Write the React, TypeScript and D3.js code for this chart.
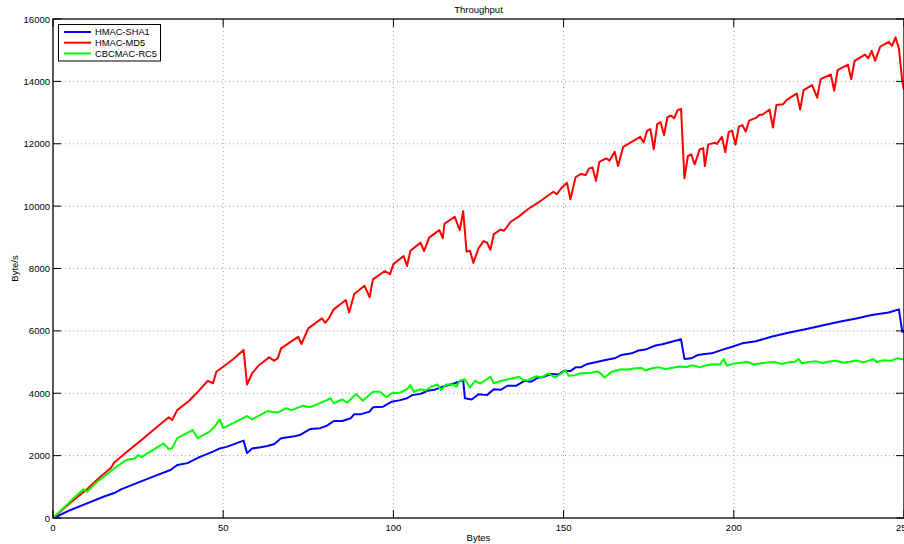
import React from "react";
import * as d3 from "d3";

const title = "Throughput";
const xLabel = "Bytes";
const yLabel = "Byte/s";
const xTicks = [0, 50, 100, 150, 200, 250];
const yTicks = [0, 2000, 4000, 6000, 8000, 10000, 12000, 14000, 16000];
const seriesNames = ["HMAC-SHA1", "HMAC-MD5", "CBCMAC-RC5"];
const seriesColors = ["#0000ff", "#ff0000", "#00ff00"];

const sha1Bytes = [0, 1, 5, 10, 15, 18, 20, 25.5, 30, 34.5, 36.5, 39.5, 43, 47, 49, 51, 56, 57, 58.5, 61, 63, 65, 67, 70.5, 72.5, 75.5, 78.5, 80.5, 82.5, 85, 87.5, 88.5, 90.5, 93, 94, 97, 99.5, 102, 104, 105.5, 108, 110, 112, 114.5, 118, 120.5, 121, 123, 125, 127.5, 129.5, 131.5, 133.5, 136, 138.5, 140.5, 142.5, 144, 146.5, 148.5, 150, 152, 153.5, 155, 157, 160, 163, 165, 167, 170, 172, 174, 177, 179, 184.5, 185.5, 187.5, 189.5, 191.5, 193.5, 196.5, 199.5, 202.5, 206.5, 211, 216, 221, 226, 231, 236, 240.5, 245.5, 248.5, 249.5, 250];
const sha1Values = [0, 40, 250, 470, 690, 800, 920, 1160, 1350, 1540, 1700, 1760, 1950, 2130, 2230, 2280, 2480, 2080, 2230, 2270, 2310, 2370, 2560, 2610, 2660, 2850, 2880, 2960, 3110, 3110, 3200, 3330, 3330, 3410, 3550, 3570, 3730, 3780, 3840, 3940, 3980, 4080, 4110, 4210, 4320, 4420, 3840, 3800, 3970, 3940, 4130, 4110, 4240, 4240, 4400, 4370, 4500, 4520, 4620, 4600, 4710, 4710, 4830, 4830, 4940, 5010, 5080, 5120, 5230, 5280, 5370, 5400, 5530, 5570, 5730, 5100, 5120, 5230, 5260, 5280, 5390, 5490, 5600, 5670, 5810, 5940, 6050, 6170, 6290, 6400, 6510, 6590, 6690, 5970, 5970];

const md5Bytes = [0, 1, 5, 10, 14, 17, 18, 22, 26, 30, 34, 35, 36.5, 40, 43, 45.5, 47, 48, 50, 53, 56, 57, 58.5, 60.5, 63.5, 65, 66, 67, 72, 73, 75, 77, 79, 80, 81, 82.5, 86, 87, 88.5, 91.5, 93, 94, 97.5, 99, 100, 103, 104, 105, 108, 109, 110.5, 113.5, 114.5, 115, 118, 119.5, 120.5, 121.5, 122.5, 123.5, 125, 126.5, 127.5, 128.5, 129.5, 131.5, 132.5, 134.5, 137, 139.5, 142.5, 147, 148, 149.5, 151, 152, 153.5, 155, 156.5, 157.5, 158.5, 159.5, 160.5, 162.5, 163.5, 165, 166, 167.5, 170, 172.5, 173.5, 174.5, 175.5, 176.5, 177.5, 178.5, 179.5, 180.5, 181.5, 182.5, 183.5, 184.5, 185.5, 186.5, 187.5, 188.5, 190, 191, 191.5, 192.5, 194.5, 195, 196.5, 197.5, 198.5, 199.5, 200.5, 201.5, 202.5, 203.5, 204.5, 206.5, 207.5, 208.5, 210.5, 211.5, 212.5, 214.5, 215.5, 217, 218.5, 219.5, 220.5, 223, 224.5, 225.5, 228.5, 229.5, 230.5, 233.5, 234.5, 235.5, 238.5, 239.5, 240.5, 241.5, 243, 245.5, 246.5, 247.5, 248.5, 249.5, 250];
const md5Values = [0, 100, 480, 920, 1330, 1600, 1780, 2150, 2500, 2870, 3230, 3140, 3460, 3760, 4100, 4400, 4320, 4690, 4850, 5100, 5390, 4280, 4640, 4900, 5150, 5040, 5120, 5440, 5810, 5580, 6080, 6240, 6400, 6260, 6400, 6690, 6990, 6590, 7180, 7450, 7080, 7650, 7920, 7820, 8140, 8400, 8080, 8570, 8830, 8560, 8990, 9230, 8970, 9430, 9660, 9230, 9840, 8540, 8570, 8180, 8650, 8880, 8830, 8600, 9100, 9250, 9210, 9500, 9680, 9900, 10110, 10460, 10380, 10600, 10750, 10220, 10920, 11030, 11000, 11210, 11240, 10810, 11420, 11530, 11460, 11740, 11290, 11900, 12060, 12220, 12040, 12410, 12470, 11820, 12630, 12690, 12280, 12850, 12900, 12820, 13080, 13120, 10890, 11600, 11660, 11340, 11820, 11860, 11280, 11980, 12030, 11990, 12220, 11730, 12370, 12420, 11970, 12550, 12600, 12390, 12740, 12830, 12920, 12940, 13100, 12520, 13240, 13270, 13400, 13510, 13610, 13100, 13720, 13880, 13480, 14070, 14220, 13700, 14360, 14540, 14070, 14660, 14860, 14740, 14980, 14660, 15110, 15270, 15140, 15410, 15060, 13990, 13740];

const rc5Bytes = [0, 1, 6, 9, 10, 13, 18, 21.5, 24, 25, 26, 32.5, 34, 35, 36.5, 41, 42.5, 46, 47.5, 49, 50, 57, 58.5, 63, 64.5, 66, 68.5, 70, 73.5, 75.5, 80.5, 81.5, 82.5, 85, 86.5, 89, 91, 94, 96, 98, 99.5, 102, 104, 105, 106, 108, 109.5, 111, 113, 114, 115.5, 117.5, 118.5, 119.5, 121, 122.5, 124, 125.5, 128.5, 129.5, 131.5, 137, 138, 139.5, 141, 142, 143.5, 145.5, 147.5, 149.5, 150.5, 151.5, 153.5, 155, 158, 160, 161, 162, 164, 167, 169, 171, 173, 174, 176, 178, 180, 182, 184, 186, 188, 190, 192, 194, 196, 197, 198, 200, 202, 204, 206, 208, 210, 212, 214, 216, 218, 219, 220, 222, 224, 226, 228, 230, 232, 234, 236, 238, 240, 241, 242, 244, 246, 248, 250];
const rc5Values = [0, 100, 630, 920, 840, 1160, 1590, 1860, 1910, 2020, 1950, 2390, 2210, 2240, 2560, 2820, 2560, 2770, 2930, 3160, 2880, 3270, 3160, 3430, 3400, 3380, 3520, 3460, 3600, 3550, 3780, 3840, 3680, 3800, 3700, 3980, 3760, 4050, 4050, 3870, 4000, 4020, 4130, 4260, 4050, 4130, 4090, 4210, 4280, 4100, 4280, 4280, 4210, 4400, 4450, 4180, 4400, 4310, 4530, 4320, 4390, 4530, 4430, 4410, 4500, 4550, 4500, 4640, 4510, 4640, 4750, 4560, 4580, 4640, 4660, 4700, 4620, 4500, 4680, 4770, 4760, 4800, 4810, 4730, 4800, 4830, 4780, 4820, 4860, 4840, 4900, 4830, 4900, 4930, 4920, 5100, 4880, 4950, 4980, 5000, 4920, 4960, 4990, 5000, 4940, 4990, 5010, 5100, 4960, 5000, 5030, 4970, 5020, 5040, 4980, 5010, 5050, 4990, 5060, 5100, 5000, 5060, 5040, 5120, 5080];

const W = 904;
const H = 544;
const M = { left: 53, right: 904, top: 19, bottom: 518 };
const FONT = "'Liberation Sans', Arial, Helvetica, sans-serif";

export default function App() {
  const x = d3.scaleLinear().domain([0, 250]).range([M.left, M.right]);
  const y = d3.scaleLinear().domain([0, 16000]).range([M.bottom, M.top]);
  const series = [
    { xs: sha1Bytes, ys: sha1Values },
    { xs: md5Bytes, ys: md5Values },
    { xs: rc5Bytes, ys: rc5Values },
  ];
  const line = d3
    .line<[number, number]>()
    .x((d) => x(d[0]))
    .y((d) => y(d[1]));
  const tickLen = 8;
  const plotW = M.right - M.left;

  return (
    <svg
      width={W}
      height={H}
      style={{ position: "absolute", left: 0, top: 0, background: "#fff" }}
      fontFamily={FONT}
    >
      <rect x={0} y={0} width={W} height={H} fill="#fff" />
      {xTicks.slice(1, -1).map((t) => (
        <line key={"gx" + t} x1={x(t)} x2={x(t)} y1={M.top} y2={M.bottom} stroke="#888" strokeWidth={0.8} strokeDasharray="1,3" />
      ))}
      {yTicks.slice(1, -1).map((t) => (
        <line key={"gy" + t} x1={M.left} x2={M.right} y1={y(t)} y2={y(t)} stroke="#888" strokeWidth={0.8} strokeDasharray="1,3" />
      ))}
      <defs>
        <clipPath id="clip">
          <rect x={M.left} y={M.top} width={plotW + 2} height={M.bottom - M.top} />
        </clipPath>
      </defs>
      <g clipPath="url(#clip)">
        {series.map((s, i) => (
          <path
            key={i}
            d={line(s.xs.map((v, j) => [v, s.ys[j]] as [number, number])) || ""}
            fill="none"
            stroke={seriesColors[i]}
            strokeWidth={2}
            strokeLinejoin="round"
          />
        ))}
      </g>
      <rect x={M.left} y={M.top} width={plotW} height={M.bottom - M.top} fill="none" stroke="#000" strokeWidth={1.3} />
      {xTicks.map((t) => (
        <g key={"tx" + t}>
          <line x1={x(t)} x2={x(t)} y1={M.bottom} y2={M.bottom - tickLen} stroke="#000" strokeWidth={1} />
          <line x1={x(t)} x2={x(t)} y1={M.top} y2={M.top + tickLen} stroke="#000" strokeWidth={1} />
          <text x={x(t)} y={531} fontSize={9.5} textAnchor="middle" fill="#000">
            {t}
          </text>
        </g>
      ))}
      {yTicks.map((t) => (
        <g key={"ty" + t}>
          <line x1={M.left} x2={M.left + tickLen} y1={y(t)} y2={y(t)} stroke="#000" strokeWidth={1} />
          <line x1={M.right} x2={M.right - tickLen} y1={y(t)} y2={y(t)} stroke="#000" strokeWidth={1} />
          <text x={50} y={y(t) + 3.5} fontSize={9.5} textAnchor="end" fill="#000">
            {t}
          </text>
        </g>
      ))}
      <text x={(M.left + 904) / 2} y={13} fontSize={9.5} textAnchor="middle" fill="#000">
        {title}
      </text>
      <text x={(M.left + 904) / 2} y={541} fontSize={9.5} textAnchor="middle" fill="#000">
        {xLabel}
      </text>
      <text transform={`translate(18,${(M.top + M.bottom) / 2}) rotate(-90)`} fontSize={9.5} textAnchor="middle" fill="#000">
        {yLabel}
      </text>
      <rect x={58.5} y={24.5} width={102} height={36.5} fill="#fff" stroke="#000" strokeWidth={1} />
      {seriesNames.map((n, i) => (
        <g key={n}>
          <line x1={64} x2={91} y1={32 + i * 10.7} y2={32 + i * 10.7} stroke={seriesColors[i]} strokeWidth={2} />
          <text x={95} y={35.3 + i * 10.7} fontSize={9.3} fill="#000">
            {n}
          </text>
        </g>
      ))}
    </svg>
  );
}
